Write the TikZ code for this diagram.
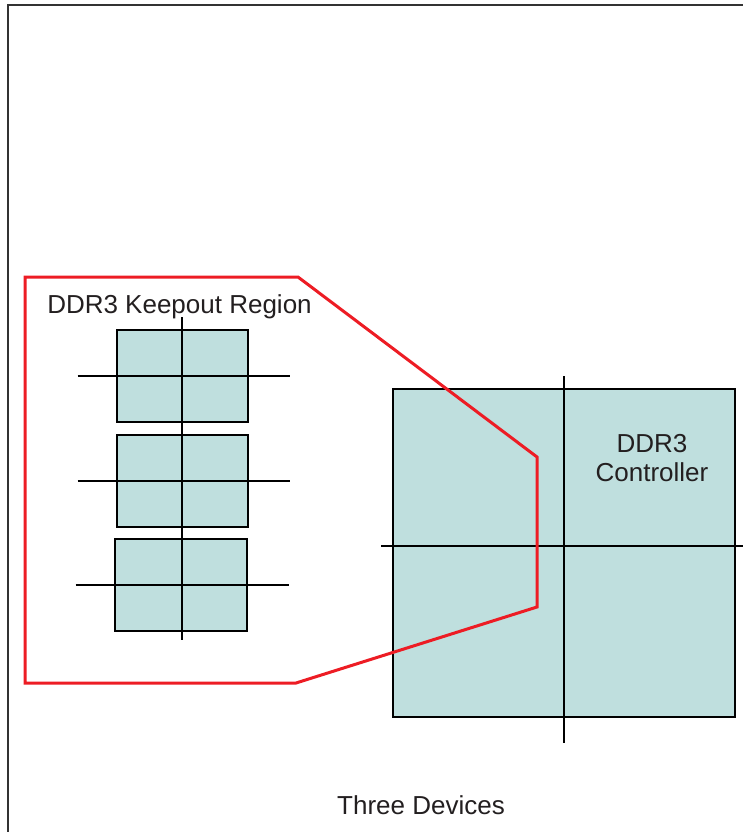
\documentclass[tikz,border=0pt]{standalone}
\usepackage{fontspec}
\setmainfont{Liberation Sans}
\usepackage{tikz}
\definecolor{chipfill}{RGB}{191,223,222}
\definecolor{keepred}{RGB}{237,28,36}
\definecolor{txtgray}{RGB}{35,31,32}

\begin{document}
\begin{tikzpicture}[x=1pt, y=-1pt,
  chip/.style={draw, line width=2.8pt, fill=chipfill, inner sep=0pt},
  cruz/.style={line width=2.4pt},
  zona/.style={draw=keepred, line width=3pt, line join=miter},
  etiqueta/.style={text=txtgray, font=\fontsize{26}{29}\selectfont, inner sep=0pt, align=center}]
\useasboundingbox (0,0) rectangle (743,832);
\draw[line width=1.4pt, draw=black!80] (743,5) -- (8,5) -- (8,832);
\node[chip, minimum width=131pt, minimum height=92pt] (mem1) at (182.5,376) {};
\node[chip, minimum width=131pt, minimum height=92pt] (mem2) at (182.5,481) {};
\node[chip, minimum width=132pt, minimum height=92pt] (mem3) at (181,585) {};
\node[chip, minimum width=342pt, minimum height=328pt] (ctrl) at (564,553) {};
\draw[cruz] ([xshift=-38pt]mem1.west) -- ([xshift=41pt]mem1.east);
\draw[cruz] ([xshift=-38pt]mem2.west) -- ([xshift=41pt]mem2.east);
\draw[cruz] ([xshift=-38pt]mem3.west) -- ([xshift=41pt]mem3.east);
\draw[cruz] (182,317) -- (182,640);
\draw[cruz] (564,376) -- (564,743);
\draw[cruz] (381,546) -- (743,546);
\draw[zona] (25,277) -- (298,277) -- (537,457) -- (537,607) -- (296,683) -- (25,683) -- cycle;
\node[etiqueta, anchor=base] (keepout) at (179.5,313) {DDR3 Keepout Region};
\node[etiqueta, anchor=base] (ctrltxt) at (652,481) {DDR3\\Controller};
\node[etiqueta, anchor=base] (devices) at (421,814) {Three Devices};
\end{tikzpicture}
\end{document}
